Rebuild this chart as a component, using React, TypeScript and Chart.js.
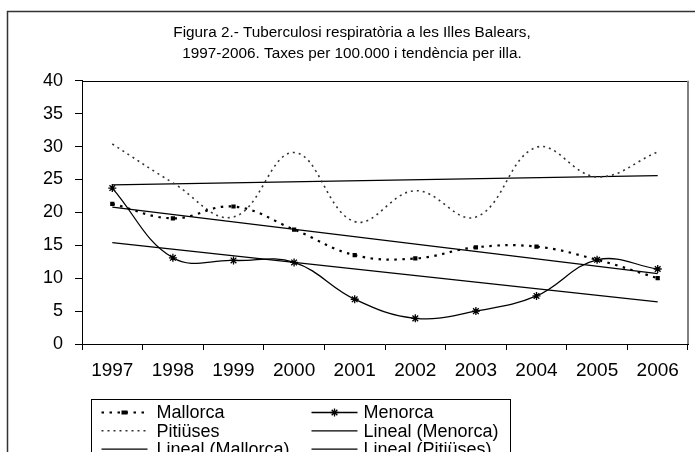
import React, { useEffect, useRef } from "react";
import { Chart, registerables } from "chart.js";

Chart.register(...registerables);

const FONT = "'Liberation Sans', Arial, Helvetica, sans-serif";

const years = ["1997", "1998", "1999", "2000", "2001", "2002", "2003", "2004", "2005", "2006"];
const mallorcaRates = [21.3, 19.1, 20.9, 17.4, 13.5, 13.0, 14.7, 14.8, 12.8, 10.0];
const menorcaRates = [23.7, 13.1, 12.7, 12.4, 6.8, 3.9, 5.0, 7.3, 12.8, 11.4];
const pitiusesRates = [30.4, 24.5, 19.3, 29.1, 18.6, 23.3, 19.3, 29.9, 25.4, 29.2];
const trendMenorca = [15.4, null, null, null, null, null, null, null, null, 6.4];
const trendMallorca = [20.8, null, null, null, null, null, null, null, null, 10.7];
const trendPitiuses = [24.2, null, null, null, null, null, null, null, null, 25.6];
const titleLines = [
  "Figura 2.- Tuberculosi respiratòria a les Illes Balears,",
  "1997-2006. Taxes per 100.000 i tendència per illa.",
];
const yMin = 0;
const yMax = 40;
const yStep = 5;

function drawStar(ctx: CanvasRenderingContext2D, x: number, y: number, r: number) {
  ctx.beginPath();
  for (let k = 0; k < 4; k++) {
    const a = (k * Math.PI) / 4;
    ctx.moveTo(x - Math.cos(a) * r, y - Math.sin(a) * r);
    ctx.lineTo(x + Math.cos(a) * r, y + Math.sin(a) * r);
  }
  ctx.stroke();
}

const framePlugin = {
  id: "frame",
  beforeDraw(chart: any) {
    const ctx = chart.ctx;
    ctx.save();
    ctx.fillStyle = "#fff";
    ctx.fillRect(0, 0, chart.width, chart.height);
    ctx.strokeStyle = "#333";
    ctx.lineWidth = 1.5;
    ctx.beginPath();
    ctx.moveTo(7.5, chart.height);
    ctx.lineTo(7.5, 11.5);
    ctx.lineTo(chart.width, 11.5);
    ctx.stroke();
    ctx.restore();
  },
  afterDraw(chart: any) {
    const ctx = chart.ctx;
    const a = chart.chartArea;
    ctx.save();
    ctx.strokeStyle = "#000";
    ctx.lineWidth = 1;
    ctx.beginPath();
    ctx.moveTo(a.left, Math.round(a.top) + 0.5);
    ctx.lineTo(a.right, Math.round(a.top) + 0.5);
    ctx.stroke();
    ctx.strokeStyle = "#808080";
    ctx.lineWidth = 2;
    ctx.beginPath();
    ctx.moveTo(a.right, a.top);
    ctx.lineTo(a.right, a.bottom);
    ctx.stroke();

    // legend box
    const bx = a.left + 9.5;
    const by = a.bottom + 55.5;
    ctx.strokeStyle = "#000";
    ctx.lineWidth = 1;
    ctx.strokeRect(bx, by, 419, 80);
    const sampleX = [bx + 10, bx + 220];
    const textX = [bx + 65, bx + 272];
    chart.data.datasets.forEach((ds: any, i: number) => {
      const col = i % 2;
      const row = Math.floor(i / 2);
      const y = by + 13 + row * 18.3;
      const x0 = sampleX[col];
      const x1 = x0 + 46;
      ctx.save();
      ctx.strokeStyle = ds.borderColor;
      ctx.lineWidth = ds.borderWidth;
      ctx.setLineDash(ds.borderDash || []);
      ctx.beginPath();
      ctx.moveTo(x0, y);
      ctx.lineTo(x1, y);
      ctx.stroke();
      ctx.setLineDash([]);
      const cx = (x0 + x1) / 2;
      if (ds.pointRadius > 0) {
        if (ds.pointStyle === "rect") {
          ctx.fillStyle = "#000";
          ctx.fillRect(cx - 3, y - 2, 6, 4);
        } else if (ds.pointStyle === "star") {
          ctx.strokeStyle = "#000";
          ctx.lineWidth = 1.3;
          drawStar(ctx, cx, y, 4);
        }
      }
      ctx.fillStyle = "#000";
      ctx.font = `18px ${FONT}`;
      ctx.textBaseline = "middle";
      ctx.textAlign = "left";
      ctx.fillText(ds.label, textX[col], y + 1);
      ctx.restore();
    });
    ctx.restore();
  },
};

export default function App() {
  const ref = useRef<HTMLCanvasElement | null>(null);

  useEffect(() => {
    document.body.style.margin = "0";
    const canvas = ref.current;
    if (!canvas) return;
    const chart = new Chart(canvas, {
      type: "line",
      data: {
        labels: years,
        datasets: [
          {
            label: "Mallorca",
            data: mallorcaRates,
            borderColor: "#000",
            borderWidth: 2.2,
            borderDash: [2.5, 5.5],
            tension: 0.4,
            pointStyle: "rect",
            pointRadius: 3,
            pointBackgroundColor: "#000",
            pointBorderColor: "#000",
            pointBorderWidth: 0,
            fill: false,
          },
          {
            label: "Menorca",
            data: menorcaRates,
            borderColor: "#000",
            borderWidth: 1.3,
            tension: 0.4,
            pointStyle: "star",
            pointRadius: 4,
            pointBorderColor: "#000",
            pointBackgroundColor: "#000",
            pointBorderWidth: 1.3,
            fill: false,
          },
          {
            label: "Pitiüses",
            data: pitiusesRates,
            borderColor: "#333",
            borderWidth: 1.6,
            borderDash: [2, 4],
            tension: 0.4,
            pointRadius: 0,
            fill: false,
          },
          {
            label: "Lineal (Menorca)",
            data: trendMenorca,
            borderColor: "#000",
            borderWidth: 1.3,
            pointRadius: 0,
            spanGaps: true,
            tension: 0,
            fill: false,
          },
          {
            label: "Lineal (Mallorca)",
            data: trendMallorca,
            borderColor: "#000",
            borderWidth: 1.3,
            pointRadius: 0,
            spanGaps: true,
            tension: 0,
            fill: false,
          },
          {
            label: "Lineal (Pitiüses)",
            data: trendPitiuses,
            borderColor: "#000",
            borderWidth: 1.3,
            pointRadius: 0,
            spanGaps: true,
            tension: 0,
            fill: false,
          },
        ],
      },
      options: {
        responsive: false,
        animation: false,
        devicePixelRatio: 1,
        layout: { padding: { top: 22, left: 16, right: 7, bottom: 0 } },
        plugins: {
          legend: { display: false },
          tooltip: { enabled: false },
          title: {
            display: true,
            text: titleLines,
            color: "#000",
            font: { family: FONT, size: 15.3, weight: "normal", lineHeight: 1.4 },
            padding: { top: 0, bottom: 16 },
          },
        },
        scales: {
          x: {
            type: "category",
            offset: true,
            grid: {
              offset: true,
              drawOnChartArea: false,
              drawTicks: true,
              tickLength: 6,
              color: "#000",
            },
            border: { display: true, color: "#000", width: 1 },
            ticks: {
              color: "#000",
              font: { family: FONT, size: 19 },
              padding: 9,
              maxRotation: 0,
              autoSkip: false,
            },
            afterFit: (s: any) => {
              s.height = 108;
            },
          },
          y: {
            min: yMin,
            max: yMax,
            grid: {
              drawOnChartArea: false,
              drawTicks: true,
              tickLength: 7,
              color: "#000",
            },
            border: { display: true, color: "#000", width: 1 },
            ticks: {
              stepSize: yStep,
              color: "#000",
              font: { family: FONT, size: 18 },
              padding: 12,
            },
            afterFit: (s: any) => {
              s.width = 66;
            },
          },
        },
      },
      plugins: [framePlugin],
    });
    return () => chart.destroy();
  }, []);

  return (
    <div style={{ position: "absolute", left: 0, top: 0, width: 695, height: 452, overflow: "hidden" }}>
      <canvas ref={ref} width={695} height={452} style={{ width: 695, height: 452, display: "block" }} />
    </div>
  );
}
